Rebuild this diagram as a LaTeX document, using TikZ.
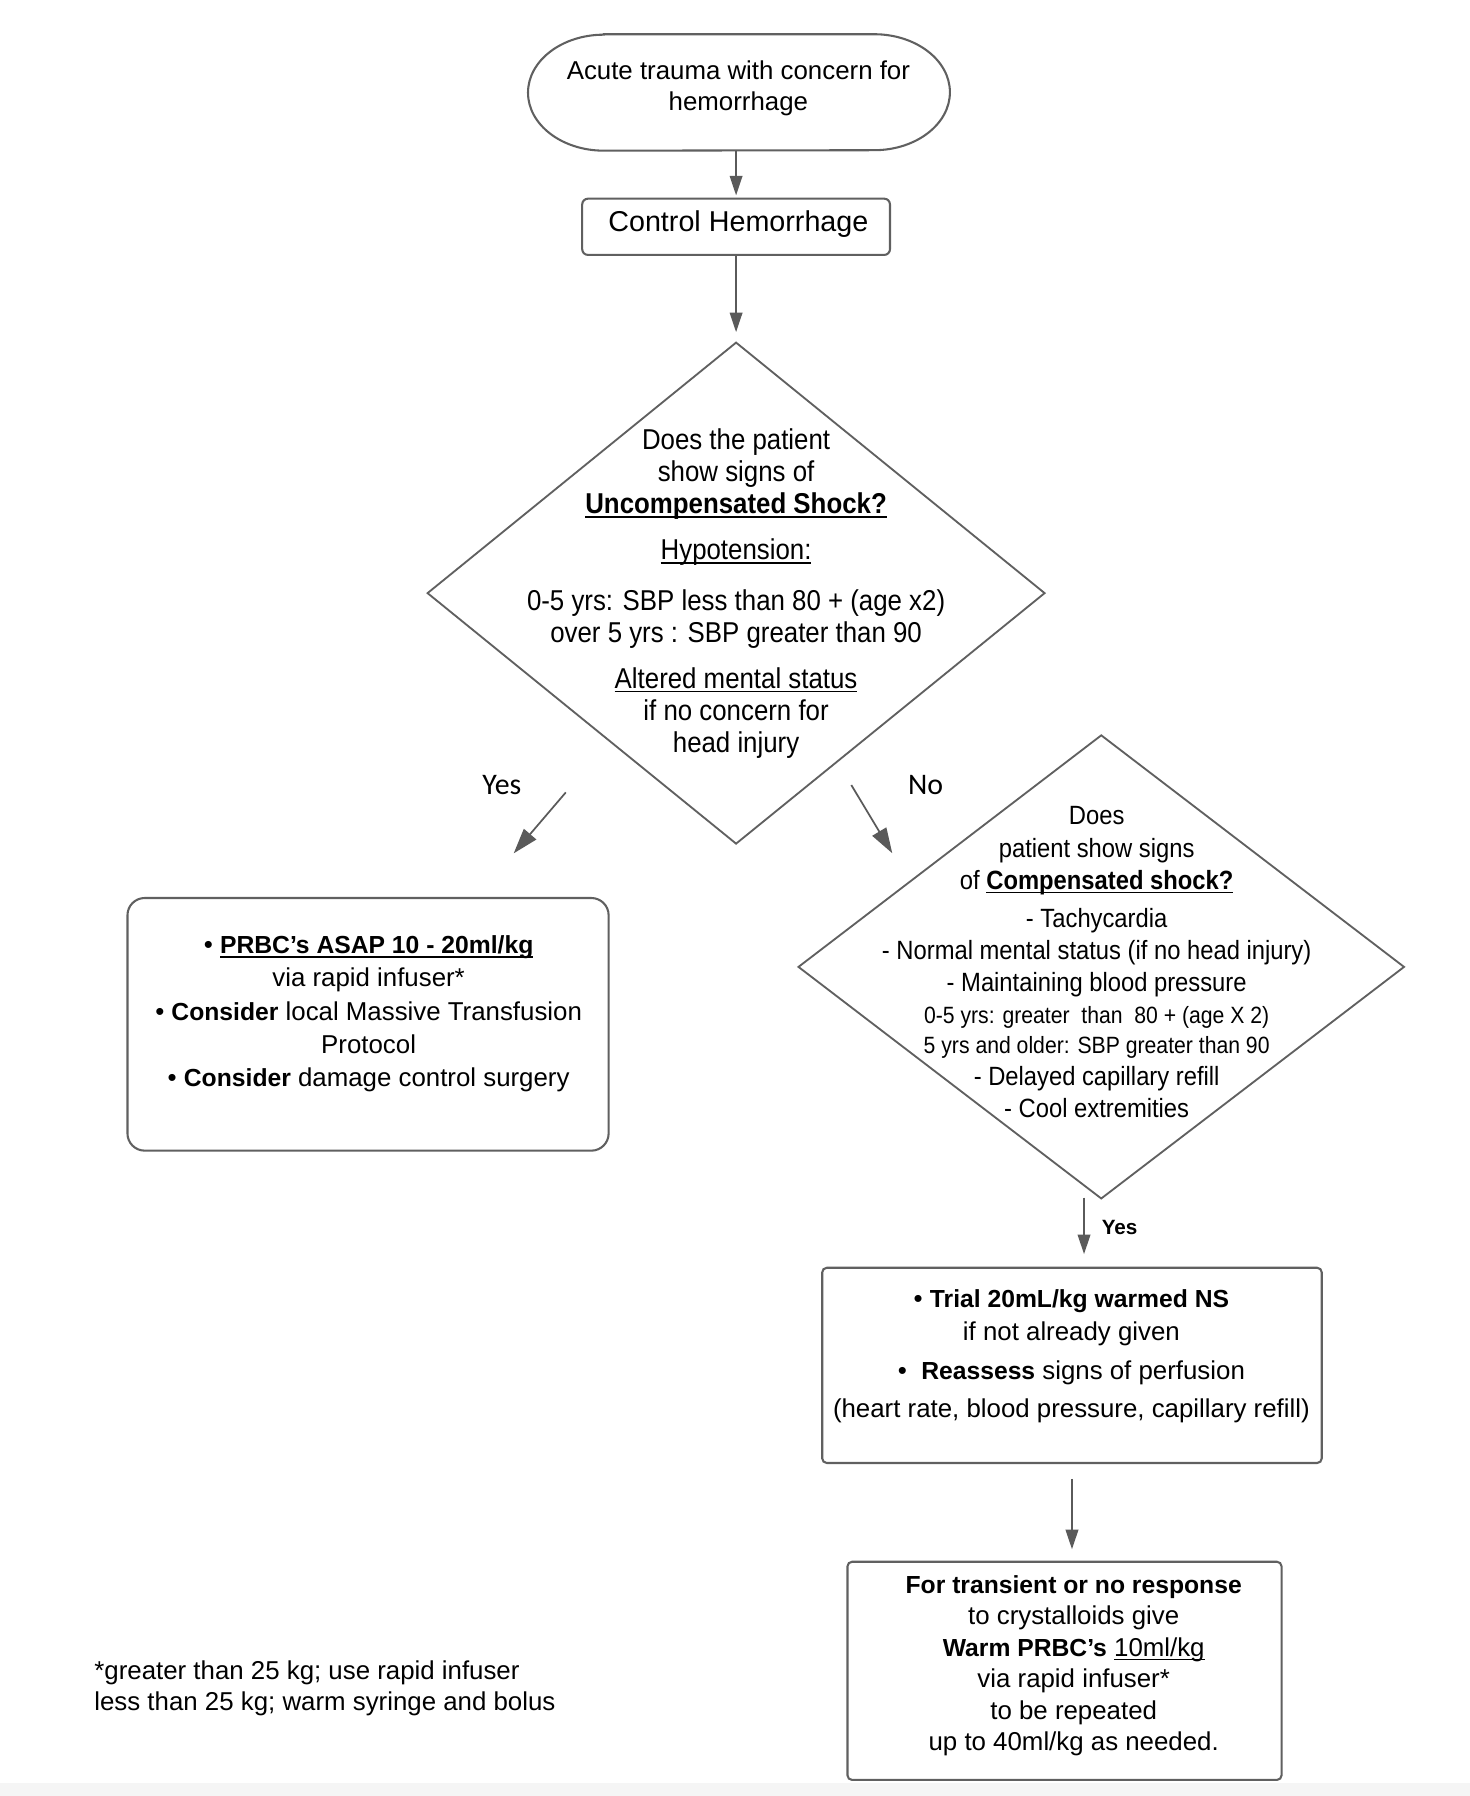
\documentclass[tikz,border=0pt]{standalone}
\usepackage{fontspec}
\setmainfont{Liberation Sans}
\newfontfamily\narrowf[FakeStretch=0.9]{Liberation Sans}
\newfontfamily\calib{Carlito}
\usetikzlibrary{shapes.geometric,arrows.meta}
\definecolor{lc}{HTML}{5A5A5A}
\definecolor{bc}{HTML}{606060}
\newsavebox\ulbox
\newcommand\ulx[1]{\sbox\ulbox{#1}\rlap{\rule[-3.5pt]{\wd\ulbox}{1.2pt}}\usebox\ulbox}
\newcommand\bb[1]{{\fontsize{21.5}{27}\selectfont\bfseries #1}}
\newcommand\apo{\char"27\relax}
\begin{document}
\begin{tikzpicture}[x=1pt,y=-1pt,
  txt/.style={inner sep=0pt, align=center, text=black},
  boxr/.style={draw=bc, line width=1.8pt, rounded corners=#1, inner sep=0pt},
  boxr/.default=4pt,
  dia/.style={draw=bc, line width=1.6pt, diamond, inner sep=0pt},
  arr/.style={draw=lc, line width=1.5pt, -{Triangle[width=11pt,length=17pt]}},
  arrbig/.style={draw=lc, line width=1.5pt, -{Triangle[width=14pt,length=22pt]}},
]
\fill[white] (0,0) rectangle (1280,1564);
\fill[gray!8] (0,1553) rectangle (1280,1564);
\useasboundingbox (0,0) rectangle (1280,1564);

% start terminal
\node[inner sep=0pt, minimum width=367pt, minimum height=101pt] (start) at (643.5,80.5) {};
\draw[draw=bc, line width=1.8pt] ([xshift=66pt]start.north west) -- ([xshift=-66pt]start.north east)
  arc[start angle=90,end angle=-90,x radius=66pt,y radius=50.5pt]
  -- ([xshift=66pt]start.south west)
  arc[start angle=270,end angle=90,x radius=66pt,y radius=50.5pt] -- cycle;
\node[txt, font=\fontsize{22.5}{27}\selectfont] (startt) at (643,77) {Acute trauma with concern for\\hemorrhage};

% control
\node[boxr=5pt, minimum width=268pt, minimum height=49pt] (ctrl) at (641,197.5) {};
\node[txt, font=\fontsize{25}{30}\selectfont] (ctrlt) at (643,195) {Control Hemorrhage};

% diamond 1
\node[dia, minimum width=538pt, minimum height=437pt] (d1) at (641,516.5) {};
\node[txt, font=\narrowf\fontsize{25}{28}\selectfont] (d1t) at (641,517) {Does the patient\\
show signs of\\
\textbf{\ulx{Uncompensated Shock?}}\\[12pt]
\ulx{Hypotension:}\\[16pt]
0-5 yrs: SBP less than 80 + (age x2)\\
over 5 yrs : SBP greater than 90\\[12pt]
\ulx{Altered mental status}\\
if no concern for\\
head injury};

% yes / no labels
\node[txt, font=\calib\fontsize{26}{30}\selectfont] (yes1) at (437,684) {Yes};
\node[txt, font=\calib\fontsize{26}{30}\selectfont] (no1) at (806,684) {No};

% left box
\node[boxr=15pt, minimum width=419pt, minimum height=220pt] (lb) at (320.5,892) {};
\node[txt, font=\fontsize{22.5}{29}\selectfont] (lbt) at (321,883) {• \bb{\ulx{PRBC\apo s ASAP 10 - 20ml/kg}}\\
via rapid infuser*\\
• \bb{Consider} local Massive Transfusion\\
Protocol\\
• \bb{Consider} damage control surgery};

% diamond 2
\node[dia, minimum width=528pt, minimum height=404pt] (d2) at (959,842) {};
\node[txt, font=\narrowf\fontsize{23}{28}\selectfont] (d2t) at (955,838) {Does\\
patient show signs\\
of \textbf{\ulx{Compensated shock?}}\\[5pt]
- Tachycardia\\
- Normal mental status (if no head injury)\\
- Maintaining blood pressure\\
{\fontsize{20.5}{24}\selectfont 0-5 yrs: greater\ \ than\ \ 80 + (age X 2)}\\[-2pt]
{\fontsize{20.5}{24}\selectfont 5 yrs and older: SBP greater than 90}\\
- Delayed capillary refill\\
- Cool extremities};

% trial box
\node[boxr=4pt, minimum width=435pt, minimum height=170pt] (tr) at (933.5,1189) {};
\node[txt, font=\fontsize{22.5}{28}\selectfont] (trt) at (933,1181) {• \bb{Trial 20mL/kg warmed NS}\\
if not already given\\[6pt]
•\ \ \bb{Reassess} signs of perfusion\\[5pt]
(heart rate, blood pressure, capillary refill)};

% final box
\node[boxr=4pt, minimum width=378pt, minimum height=190pt] (fb) at (927,1455) {};
\node[txt, font=\fontsize{22.5}{27.4}\selectfont] (fbt) at (935,1450.5) {\bb{For transient or no response}\\
to crystalloids give\\
\bb{Warm PRBC\apo s} \ulx{10ml/kg}\\
via rapid infuser*\\
to be repeated\\
up to 40ml/kg as needed.};

% yes label 2
\node[txt, font=\bfseries\fontsize{18}{20}\selectfont] (yes2) at (975,1069) {Yes};

% footnote
\node[txt, align=left, anchor=west, font=\fontsize{22.5}{27}\selectfont] (foot) at (82,1470.5) {*greater than 25 kg; use rapid infuser\\
less than 25 kg; warm syringe and bolus};

% connectors
\draw[arr, shorten >=2pt] (ctrl.north |- start.south) -- (ctrl.north);
\draw[arr, shorten >=8pt] (ctrl.south) -- (d1.north);
\draw[arrbig, shorten <=58pt, shorten >=50pt] (d1) -- (lb);
\coordinate (noE) at (777,743);
\draw[arrbig, shorten <=23pt] (d1) -- (noE);
\coordinate (ya) at (944,1043);
\draw[arr, shorten >=11pt] (ya) -- (ya |- tr.north);
\draw[arr, shorten <=13pt, shorten >=10pt] (tr.south) -- (tr.south |- fb.north);
\end{tikzpicture}
\end{document}
